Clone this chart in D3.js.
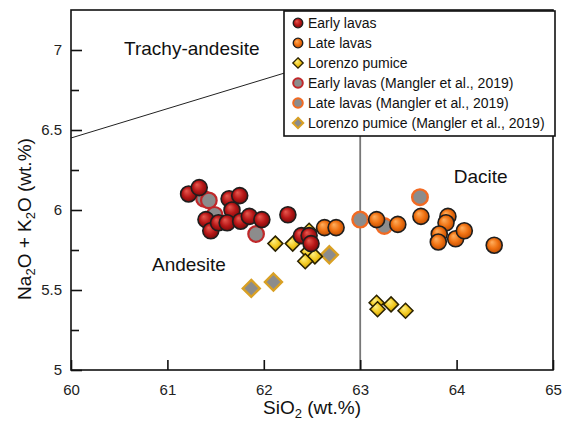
<!DOCTYPE html>
<html><head><meta charset="utf-8">
<script src="https://cdn.jsdelivr.net/npm/d3@7"></script>
<style>body{margin:0;background:#fff;}svg{display:block;font-family:"Liberation Sans",Arial,sans-serif;}</style>
</head><body><svg id="c" width="565" height="421"></svg>
<script>
// Data (SiO2, Na2O+K2O)
const earlyLavas = [[61.22,6.10],[61.33,6.14],[61.64,6.07],[61.75,6.09],[61.67,6.00],[61.40,5.94],[61.45,5.87],[61.53,5.92],[61.62,5.92],[61.76,5.93],[61.85,5.96],[61.98,5.94],[62.25,5.97],[62.39,5.84],[62.47,5.84],[62.49,5.79]];
const lateLavas = [[62.63,5.89],[62.75,5.89],[63.17,5.94],[63.39,5.91],[63.63,5.96],[63.91,5.96],[63.89,5.92],[63.82,5.85],[63.81,5.80],[63.99,5.82],[64.08,5.87],[64.39,5.78]];
const lorenzoPumice = [[62.47,5.87],[62.12,5.79],[62.30,5.79],[62.46,5.74],[62.53,5.71],[62.43,5.68],[63.17,5.42],[63.18,5.38],[63.32,5.41],[63.47,5.37]];
const earlyMangler = [[61.38,6.07],[61.43,6.06],[61.49,5.97],[61.92,5.85]];
const lateMangler = [[63.00,5.94],[63.25,5.90],[63.62,6.08]];
const pumiceMangler = [[62.68,5.72],[62.10,5.55],[61.87,5.51]];
const xTicks = [60,61,62,63,64,65];
const yTicks = [5,5.5,6,6.5,7];
const yMinor = [5.25,5.75,6.25,6.75];
const legendLabels = ["Early lavas","Late lavas","Lorenzo pumice","Early lavas (Mangler et al., 2019)","Late lavas (Mangler et al., 2019)","Lorenzo pumice (Mangler et al., 2019)"];
const fields = [{t:"Trachy-andesite",x:60.55,y:6.97},{t:"Andesite",x:60.84,y:5.62},{t:"Dacite",x:63.97,y:6.17}];
// TAS boundaries
const tasLine = [[57,5.9],[63,7]];
const tasVert = [[63,5],[63,7]];

const svg = d3.select("#c");
const x = d3.scaleLinear().domain([60,65]).range([71,553]);
const y = d3.scaleLinear().domain([5,7.25]).range([370,10]);

const defs = svg.append("defs");
function grad(id, c0, c1, c2){
  const g = defs.append("radialGradient").attr("id",id).attr("cx","50%").attr("cy","50%").attr("r","55%").attr("fx","35%").attr("fy","30%");
  g.append("stop").attr("offset","0%").attr("stop-color",c0);
  g.append("stop").attr("offset","55%").attr("stop-color",c1);
  g.append("stop").attr("offset","100%").attr("stop-color",c2);
}
grad("gRed","#e85a50","#b81818","#700808");
grad("gOrange","#ffb060","#f07212","#b84800");
grad("gYellow","#fff38a","#f2c81e","#b88a00");
defs.append("clipPath").attr("id","clip").append("rect").attr("x",71).attr("y",10).attr("width",482).attr("height",360);

const plot = svg.append("g").attr("clip-path","url(#clip)");
const line = d3.line().x(d=>x(d[0])).y(d=>y(d[1]));
plot.append("path").attr("d",line(tasLine)).attr("fill","none").attr("stroke","#222").attr("stroke-width",1);
plot.append("path").attr("d",line(tasVert)).attr("fill","none").attr("stroke","#777").attr("stroke-width",1.8);

// field labels
svg.selectAll("text.field").data(fields).join("text").attr("class","field")
  .attr("x",d=>x(d.x)).attr("y",d=>y(d.y)).attr("font-size",19).attr("fill","#111").text(d=>d.t);

const diamond = (r)=>`M0,${-r}L${r},0L0,${r}L${-r},0Z`;
function circles(data, fill, stroke, sw, r){
  plot.append("g").selectAll("circle").data(data).join("circle")
    .attr("cx",d=>x(d[0])).attr("cy",d=>y(d[1])).attr("r",r)
    .attr("fill",fill).attr("stroke",stroke).attr("stroke-width",sw);
}
function diamonds(data, fill, stroke, sw, r){
  plot.append("g").selectAll("path").data(data).join("path")
    .attr("transform",d=>`translate(${x(d[0])},${y(d[1])})`).attr("d",diamond(r))
    .attr("fill",fill).attr("stroke",stroke).attr("stroke-width",sw).attr("stroke-linejoin","miter");
}
circles(earlyMangler,"#8c8c8c","#c0282a",2.2,7.8);
circles(lateMangler,"#8c8c8c","#f26a22",2.4,7.8);
diamonds(pumiceMangler,"#8c8c8c","#d9a024",2.4,8.5);
diamonds(lorenzoPumice,"url(#gYellow)","#2a2200",1.5,7.5);
circles(earlyLavas,"url(#gRed)","#1e1e1e",1.6,8);
circles(lateLavas,"url(#gOrange)","#1e1e1e",1.6,8);

// axes
const ax = svg.append("g").attr("transform","translate(0,370)")
  .call(d3.axisBottom(x).tickValues(xTicks).tickFormat(d3.format("d")).tickSizeInner(-10).tickSizeOuter(0).tickPadding(14));
const ay = svg.append("g").attr("transform","translate(71,0)")
  .call(d3.axisLeft(y).tickValues(yTicks).tickFormat(d=>d===5||d===6||d===7?d3.format("d")(d):d3.format(".1f")(d)).tickSizeInner(-11).tickSizeOuter(0).tickPadding(9));
const aym = svg.append("g").attr("transform","translate(71,0)")
  .call(d3.axisLeft(y).tickValues(yMinor).tickFormat("").tickSizeInner(-8).tickSizeOuter(0));
[ax,ay,aym].forEach(a=>{
  a.select(".domain").remove();
  a.selectAll("line").attr("stroke","#111").attr("stroke-width",1.6);
  a.selectAll("text").attr("font-size",15).attr("fill","#222").attr("font-family","Liberation Sans, Arial, sans-serif");
});
// frame
svg.append("rect").attr("x",71).attr("y",10).attr("width",482).attr("height",360)
  .attr("fill","none").attr("stroke","#111").attr("stroke-width",1.6);

// axis titles
const xt = svg.append("text").attr("x",(71+553)/2).attr("y",414).attr("text-anchor","middle").attr("font-size",19).attr("fill","#111");
xt.append("tspan").text("SiO");
xt.append("tspan").attr("font-size",13).attr("dy",4).text("2");
xt.append("tspan").attr("dy",-4).text(" (wt.%)");
const yt = svg.append("text").attr("transform","translate(31,219) rotate(-90)").attr("text-anchor","middle").attr("font-size",19).attr("fill","#111");
yt.append("tspan").text("Na");
yt.append("tspan").attr("font-size",13).attr("dy",4).text("2");
yt.append("tspan").attr("dy",-4).text("O + K");
yt.append("tspan").attr("font-size",13).attr("dy",4).text("2");
yt.append("tspan").attr("dy",-4).text("O (wt.%)");

// legend
const lg = svg.append("g");
lg.append("rect").attr("x",284).attr("y",11).attr("width",271).attr("height",125).attr("fill","#fff").attr("stroke","#111").attr("stroke-width",1.6);
const legSym = [
  {type:"c",fill:"url(#gRed)",stroke:"#1e1e1e",sw:1.3},
  {type:"c",fill:"url(#gOrange)",stroke:"#1e1e1e",sw:1.3},
  {type:"d",fill:"url(#gYellow)",stroke:"#2a2200",sw:1.3},
  {type:"c",fill:"#8c8c8c",stroke:"#c0282a",sw:2},
  {type:"c",fill:"#8c8c8c",stroke:"#f26a22",sw:2},
  {type:"d",fill:"#8c8c8c",stroke:"#d9a024",sw:2}
];
const li = lg.selectAll("g.item").data(legendLabels).join("g").attr("class","item")
  .attr("transform",(d,i)=>`translate(298,${23+i*20})`);
li.each(function(d,i){
  const s = legSym[i], g = d3.select(this);
  if(s.type==="c") g.append("circle").attr("r",4.8).attr("fill",s.fill).attr("stroke",s.stroke).attr("stroke-width",s.sw);
  else g.append("path").attr("d",diamond(5.2)).attr("fill",s.fill).attr("stroke",s.stroke).attr("stroke-width",s.sw);
  g.append("text").attr("x",10).attr("dy","0.36em").attr("font-size",14).attr("fill","#111").text(d);
});
</script></body></html>
